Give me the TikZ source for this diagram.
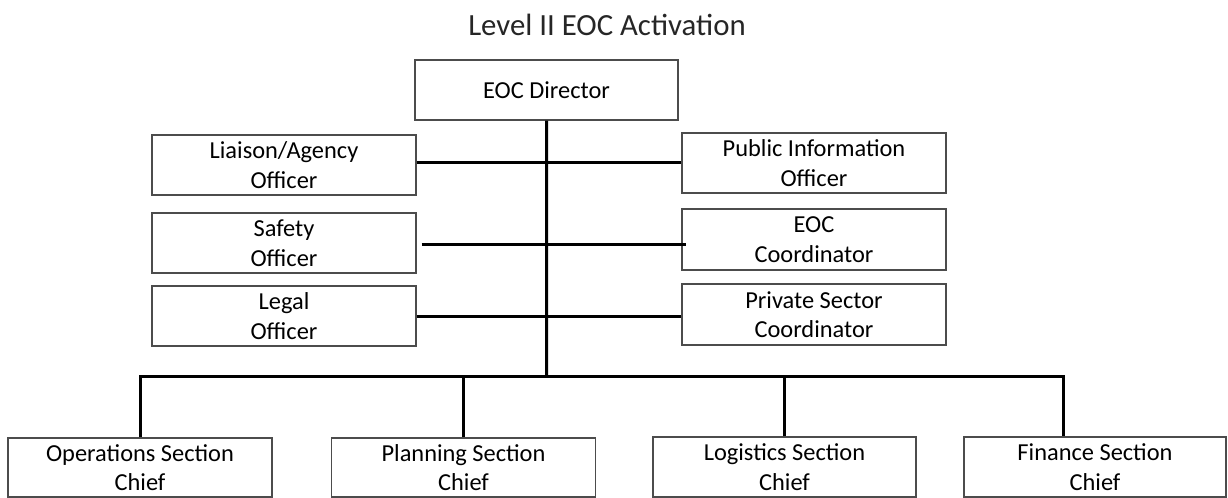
\documentclass[tikz,border=0pt]{standalone}
\usepackage{fontspec}
\setmainfont{Carlito}
\usepackage{tikz}
\usetikzlibrary{positioning,calc}

\begin{document}
\begin{tikzpicture}[x=0.5pt,y=-0.5pt,
  font=\fontsize{12.2}{14.8}\selectfont, every node/.style={align=center},
  box/.style={draw=black!70,line width=0.6pt,fill=white,
              minimum width=132pt,minimum height=30pt,inner sep=2pt},
  conn/.style={line width=1.5pt,black}
]
\useasboundingbox (0,0) rectangle (1228,498);

\node[font=\fontsize{15.4}{18}\selectfont,text=black!85] (title) at (607,25) {Level II EOC Activation};

\node[box,minimum width=131.5pt] (dir) at (546.5,90) {EOC Director};

\node[box] (liaison) at (284,165)   {Liaison/Agency\\Officer};
\node[box] (safety)  at (284,243)   {Safety\\Officer};
\node[box] (legal)   at (284,316)   {Legal\\Officer};
\node[box] (pio)     at (814,163)   {Public Information\\Officer};
\node[box,minimum height=30.5pt] (coord) at (814,239.5) {EOC\\Coordinator};
\node[box,minimum height=30.5pt] (priv)  at (814,314.5) {Private Sector\\Coordinator};

\node[box,minimum height=29.5pt] (ops)  at (140,467.5)  {Operations Section\\Chief};
\node[box,minimum height=29.5pt] (plan) at (463.5,467.5) {Planning Section\\Chief};
\node[box,minimum width=131.5pt,minimum height=30pt] (logi) at (784.5,467) {Logistics Section\\Chief};
\node[box,minimum width=131pt,minimum height=30pt]   (fin)  at (1095,467)  {Finance Section\\Chief};

\coordinate (bus) at (546.7,376);

\draw[conn] (dir.south) -- (bus);
\draw[conn] ([yshift=1.5pt]liaison.east) -- ([yshift=1.5pt]liaison.east -| pio.west);
\draw[conn] ([xshift=2.5pt,yshift=-0.5pt]safety.east) -- ([yshift=-0.5pt]safety.east -| {$(coord.west)+(5,0)$});
\draw[conn] (legal.east) -- (legal.east -| priv.west);

\draw[conn] (ops.north) |- ([xshift=-16pt]fin.north |- bus) -- ([xshift=-16pt]fin.north);
\foreach \n in {plan,logi}
  \draw[conn] (\n.north) -- (\n.north |- bus);
\end{tikzpicture}
\end{document}
